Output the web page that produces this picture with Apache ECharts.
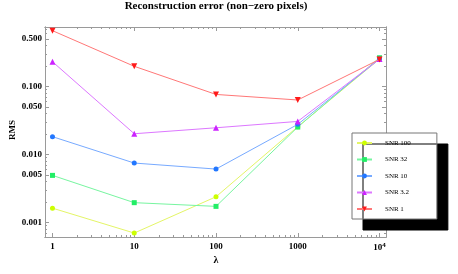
<!DOCTYPE html>
<html><head><meta charset="utf-8">
<script src="https://cdn.jsdelivr.net/npm/echarts@6/dist/echarts.min.js"></script>
<style>html,body{margin:0;padding:0;background:#fff}#c{width:458px;height:274px}</style>
</head><body><div id="c"></div>
<script>
const lambdas = [1, 10, 100, 1000, 10000];
const snr100 = [0.00162, 0.000697, 0.00238, 0.0255, 0.252];
const snr32  = [0.00491, 0.00195, 0.00172, 0.0252, 0.263];
const snr10  = [0.0182, 0.00745, 0.00608, 0.0276, 0.252];
const snr3_2 = [0.230, 0.0201, 0.0246, 0.0305, 0.252];
const snr1   = [0.658, 0.197, 0.076, 0.063, 0.249];
const seriesNames = ['SNR 100', 'SNR 32', 'SNR 10', 'SNR 3.2', 'SNR 1'];
const xMajor = [1, 10, 100, 1000, 10000];
const xMinor = [2,3,4,5,6,7,8,9,20,30,40,50,60,70,80,90,200,300,400,500,600,700,800,900,2000,3000,4000,5000,6000,7000,8000,9000];
const yMajor = [0.001, 0.005, 0.01, 0.05, 0.1, 0.5];
const yMinor = [0.0007,0.0008,0.0009,0.002,0.003,0.004,0.006,0.007,0.008,0.009,0.02,0.03,0.04,0.06,0.07,0.08,0.09,0.2,0.3,0.4,0.6,0.7];

const serif = 'Liberation Serif';
const frame = '#9a9a9a';
const markerColors = ['#ccff00', '#22ee66', '#2277ff', '#cc22ff', '#ff1a1a'];
const lineColors = ['#e4f566', '#77f5a0', '#77aaff', '#dd77ff', '#ff7777'];
const symbols = ['circle', 'rect', 'circle', 'triangle', 'path://M0,0 L10,0 L5,9 Z'];
const datasets = [snr100, snr32, snr10, snr3_2, snr1];

function xAxisDef(pos, ticks, len, labels) {
  return {
    type: 'log', position: pos, min: 0.81, max: 12000, logBase: 10,
    axisLine: {show: true, onZero: false, lineStyle: {color: frame, width: 1}},
    axisTick: {show: true, inside: true, length: len, customValues: ticks, lineStyle: {color: frame}},
    axisLabel: {show: labels, customValues: xMajor, margin: 5, fontFamily: serif, fontWeight: 'bold', fontSize: 9, color: '#000',
      formatter: v => v >= 10000 ? '10{sup|4}' : String(Math.round(v)),
      rich: {sup: {fontFamily: serif, fontWeight: 'bold', fontSize: 7, verticalAlign: 'top', padding: [0,0,5,0], color:'#000'}}},
    splitLine: {show: false}, minorTick: {show: false}
  };
}
function yAxisDef(pos, ticks, len, labels) {
  return {
    type: 'log', position: pos, min: 0.00061, max: 0.745, logBase: 10,
    axisLine: {show: true, onZero: false, lineStyle: {color: frame, width: 1}},
    axisTick: {show: true, inside: true, length: len, customValues: ticks, lineStyle: {color: frame}},
    axisLabel: {show: labels, customValues: yMajor, margin: 3, fontFamily: serif, fontWeight: 'bold', fontSize: 9, color: '#000',
      formatter: v => v.toFixed(3)},
    splitLine: {show: false}, minorTick: {show: false}
  };
}

const chart = echarts.init(document.getElementById('c'), null, {renderer: 'canvas'});
chart.setOption({
  animation: false,
  backgroundColor: '#fff',
  title: {text: 'Reconstruction error (non\u2212zero pixels)', left: 216, textAlign: 'center', top: 1, padding: 0,
    textStyle: {fontFamily: serif, fontWeight: 'bold', fontSize: 11, color: '#000'}},
  grid: {left: 45, top: 27, right: 72, bottom: 37, containLabel: false},
  xAxis: [xAxisDef('bottom', xMajor, 4, true), xAxisDef('bottom', xMinor, 2, false),
          xAxisDef('top', xMajor, 4, false), xAxisDef('top', xMinor, 2, false)],
  yAxis: [yAxisDef('left', yMajor, 4, true), yAxisDef('left', yMinor, 2, false),
          yAxisDef('right', yMajor, 4, false), yAxisDef('right', yMinor, 2, false)],
  legend: {
    data: seriesNames, orient: 'vertical', left: 352, top: 133,
    padding: [6, 26, 6, 4], itemGap: 8.5, itemWidth: 15, itemHeight: 6,
    backgroundColor: '#fff', borderColor: '#777', borderWidth: 1,
    shadowColor: '#000', shadowBlur: 0, shadowOffsetX: 11, shadowOffsetY: 11,
    textStyle: {fontFamily: serif, fontSize: 7, color: '#000', padding: [0,0,0,8], lineHeight: 8}
  },
  graphic: [
    {type: 'text', x: 13, y: 130, rotation: Math.PI/2, style: {text: 'RMS', x: 0, y: 0, fontFamily: serif, fontWeight: 'bold', fontSize: 9, fill: '#000', textAlign: 'center', textVerticalAlign: 'middle'}},
    {type: 'text', x: 216, y: 260, style: {text: '\u03bb', x: 0, y: 0, fontFamily: serif, fontWeight: 'bold', fontSize: 10, fill: '#000', textAlign: 'center', textVerticalAlign: 'middle'}}
  ],
  series: datasets.map((d, i) => ({
    name: seriesNames[i], type: 'line', xAxisIndex: 0, yAxisIndex: 0,
    data: lambdas.map((x, j) => [x, d[j]]),
    symbol: symbols[i], symbolSize: i >= 3 ? 6 : 5,
    itemStyle: {color: markerColors[i]},
    lineStyle: {color: lineColors[i], width: 1},
    z: 2 + i
  }))
});
</script></body></html>
